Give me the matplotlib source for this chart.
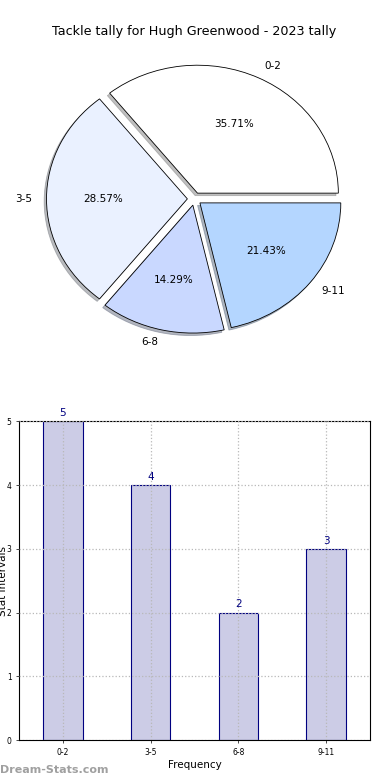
import matplotlib
matplotlib.use('Agg')
import matplotlib.pyplot as plt

# tackle tally data
intervals = ['0-2', '3-5', '6-8', '9-11']
counts = [5, 4, 2, 3]
pie_colors = ['#ffffff', '#eaf1ff', '#c9d8ff', '#b4d6ff']

fig = plt.figure(figsize=(3.9, 7.8), dpi=100)

# pie chart
ax1 = fig.add_axes([0.047, 0.54, 0.903, 0.41])
ax1.pie(
    counts,
    labels=intervals,
    colors=pie_colors,
    explode=[0.05] * len(counts),
    autopct='%.2f%%',
    shadow={'ox': -0.012, 'oy': -0.014, 'shade': 0.5},
    startangle=0,
    wedgeprops={'edgecolor': 'black', 'linewidth': 0.6},
    textprops={'fontsize': 7.5},
)
ax1.set_aspect('auto')
ax1.set_xlim(-1.25, 1.25)
ax1.set_ylim(-1.25, 1.25)
ax1.set_title('Tackle tally for Hugh Greenwood - 2023 tally', fontsize=9.2, pad=3)

# bar chart
ax2 = fig.add_axes([0.049, 0.051, 0.9, 0.409])
x = range(len(intervals))
bars = ax2.bar(x, counts, width=0.45, color='#ccccE6', edgecolor='navy', linewidth=0.8)
for rect, c in zip(bars, counts):
    ax2.text(rect.get_x() + rect.get_width() / 2, rect.get_height() + 0.05, str(c),
             ha='center', va='bottom', fontsize=7.5, color='navy')
ax2.set_xticks(list(x))
ax2.set_xticklabels(intervals)
ax2.set_xlim(-0.5, 3.5)
ax2.set_ylim(0, 5)
ax2.set_yticks(range(6))
ax2.tick_params(labelsize=5.5, length=2, width=0.5)
ax2.grid(True, linestyle=':', color='#b8b8b8', linewidth=0.9)
ax2.set_axisbelow(False)
ax2.set_xlabel('Frequency', fontsize=7.5, labelpad=2)
ax2.set_ylabel('Stat Intervals', fontsize=7.5)
ax2.yaxis.set_label_coords(-0.033, 0.5)

fig.text(0.0, 0.013, 'Dream-Stats.com', fontsize=8, fontweight='bold', color='#a0a0a0',
         ha='left', va='center')

fig.savefig('out.png', dpi=100)
plt.close(fig)
